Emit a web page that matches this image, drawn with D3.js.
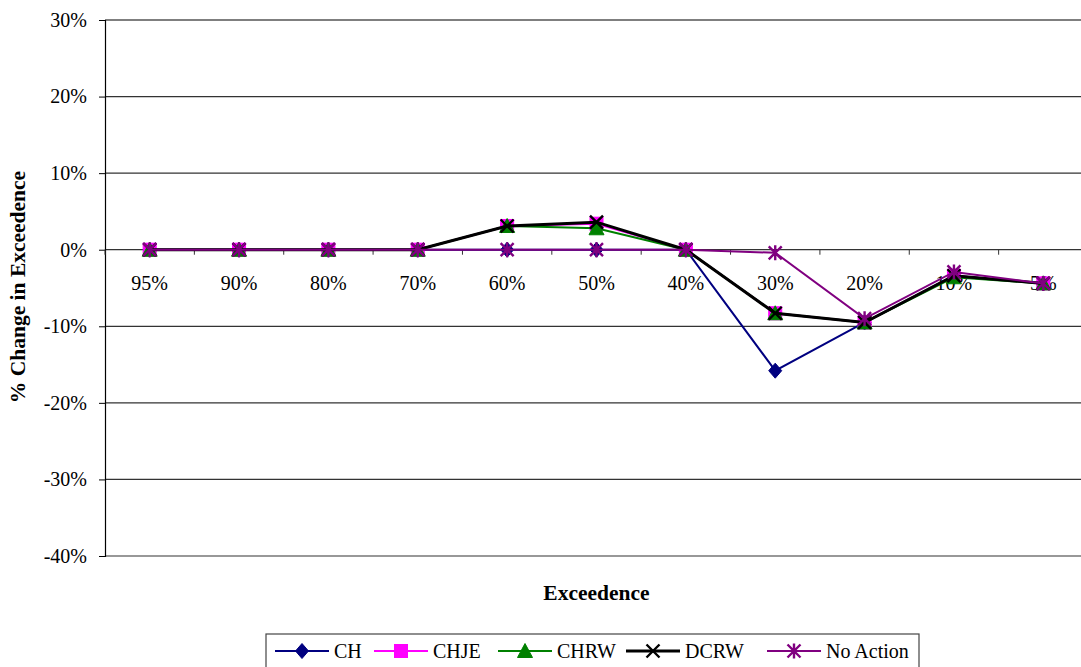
<!DOCTYPE html>
<html>
<head>
<meta charset="utf-8">
<script src="https://cdn.jsdelivr.net/npm/d3@7"></script>
<style>
  html, body { margin: 0; padding: 0; background: #fff; }
  svg { display: block; }
  svg text { font-family: "Liberation Serif", "Times New Roman", "DejaVu Serif", serif; }
</style>
</head>
<body>
<svg id="chart" width="1081" height="667"></svg>
<script>
// Exceedence levels along the x axis
const categories = ["95%", "90%", "80%", "70%", "60%", "50%", "40%", "30%", "20%", "10%", "5%"];
const yTicks = [-40, -30, -20, -10, 0, 10, 20, 30];

// % change in exceedence for each alternative
const seriesNames = ["CH", "CHJE", "CHRW", "DCRW", "No Action"];
const valuesCH       = [0, 0, 0, 0, 0,   0,   0, -15.8, -9.5, -3.4, -4.4];
const valuesCHJE     = [0, 0, 0, 0, 3.1, 3.4, 0, -8.3,  -9.5, -3.4, -4.4];
const valuesCHRW     = [0, 0, 0, 0, 3.1, 2.8, 0, -8.3,  -9.5, -3.6, -4.4];
const valuesDCRW     = [0, 0, 0, 0, 3.1, 3.6, 0, -8.3,  -9.5, -3.4, -4.4];
const valuesNoAction = [0, 0, 0, 0, 0,   0,   0, -0.4,  -9.0, -2.9, -4.4];

const styles = {
  "CH":        { color: "#000080", width: 2,   marker: "diamond" },
  "CHJE":      { color: "#ff00ff", width: 2,   marker: "square" },
  "CHRW":      { color: "#008000", width: 2,   marker: "triangle" },
  "DCRW":      { color: "#000000", width: 3,   marker: "cross" },
  "No Action": { color: "#800080", width: 2,   marker: "star" }
};
const seriesValues = [valuesCH, valuesCHJE, valuesCHRW, valuesDCRW, valuesNoAction];
const series = seriesNames.map((name, i) => Object.assign({ name, values: seriesValues[i] }, styles[name]));

const FONT = "Liberation Serif, Times New Roman, DejaVu Serif, serif";
const svg = d3.select("#chart");
const plot = { left: 105, right: 1088, top: 20, bottom: 556 };

const x = d3.scalePoint().domain(categories).range([plot.left, plot.right]).padding(0.5);
const y = d3.scaleLinear().domain([-40, 30]).range([plot.bottom, plot.top]);

// Horizontal gridlines
svg.append("g").selectAll("line").data(yTicks).join("line")
  .attr("x1", plot.left).attr("x2", 1081)
  .attr("y1", d => y(d)).attr("y2", d => y(d))
  .attr("stroke", d => d === 30 ? "#000" : "#333")
  .attr("stroke-width", 1.2);

// Y axis with tick labels
const yAxis = d3.axisLeft(y).tickValues(yTicks).tickSize(6).tickPadding(12)
  .tickFormat(d => d + "%");
const gy = svg.append("g").attr("transform", `translate(${plot.left},0)`).call(yAxis)
  .attr("font-family", FONT).attr("font-size", 20);
gy.select(".domain").attr("stroke", "#000").attr("stroke-width", 1.2);
gy.selectAll(".tick line").attr("stroke", "#000");
gy.selectAll("text").attr("fill", "#000");

// X axis crossing at zero, ticks between categories
const step = x.step();
const boundaries = d3.range(categories.length + 1).map(i => plot.left + i * step);
svg.append("g").selectAll("line").data(boundaries.filter(b => b < 1081)).join("line")
  .attr("x1", d => d).attr("x2", d => d)
  .attr("y1", y(0)).attr("y2", y(0) + 5)
  .attr("stroke", "#333").attr("stroke-width", 1);

svg.append("g").attr("font-family", FONT).selectAll("text").data(categories).join("text")
  .attr("x", d => x(d)).attr("y", y(0) + 40)
  .attr("text-anchor", "middle")
  .attr("font-size", 20).attr("fill", "#000")
  .text(d => d);

// Axis titles
svg.append("text")
  .attr("x", (plot.left + plot.right) / 2).attr("y", 600)
  .attr("font-family", FONT)
  .attr("text-anchor", "middle").attr("font-weight", "bold").attr("font-size", 21.5)
  .text("Exceedence");

svg.append("text")
  .attr("transform", `translate(25,${(plot.top + plot.bottom) / 2 - 1}) rotate(-90)`)
  .attr("font-family", FONT)
  .attr("text-anchor", "middle").attr("font-weight", "bold").attr("font-size", 21.5)
  .text("% Change in Exceedence");

// Marker drawing
function drawMarker(g, type, color, cx, cy, s) {
  const h = s / 2;
  if (type === "diamond") {
    g.append("path").attr("d", `M${cx},${cy - h - 1}L${cx + h},${cy}L${cx},${cy + h + 1}L${cx - h},${cy}Z`)
      .attr("fill", color).attr("stroke", color);
  } else if (type === "square") {
    g.append("rect").attr("x", cx - h).attr("y", cy - h).attr("width", s).attr("height", s)
      .attr("fill", color).attr("stroke", color);
  } else if (type === "triangle") {
    g.append("path").attr("d", `M${cx},${cy - h - 1}L${cx + h + 1},${cy + h}L${cx - h - 1},${cy + h}Z`)
      .attr("fill", color).attr("stroke", color);
  } else if (type === "cross") {
    g.append("path").attr("d", `M${cx - h},${cy - h}L${cx + h},${cy + h}M${cx + h},${cy - h}L${cx - h},${cy + h}`)
      .attr("stroke", color).attr("stroke-width", 2.4).attr("fill", "none");
  } else if (type === "star") {
    g.append("path").attr("d", `M${cx - h},${cy - h}L${cx + h},${cy + h}M${cx + h},${cy - h}L${cx - h},${cy + h}M${cx},${cy - h - 1}L${cx},${cy + h + 1}`)
      .attr("stroke", color).attr("stroke-width", 2.4).attr("fill", "none");
  }
}

// Series lines and markers
const line = d3.line().x((d, i) => x(categories[i])).y(d => y(d));
series.forEach(s => {
  const g = svg.append("g");
  g.append("path").datum(s.values)
    .attr("d", line).attr("fill", "none")
    .attr("stroke", s.color).attr("stroke-width", s.width);
  s.values.forEach((v, i) => drawMarker(g, s.marker, s.color, x(categories[i]), y(v), 13));
});

// Legend
const legend = svg.append("g").attr("font-family", FONT);
legend.append("rect").attr("x", 266).attr("y", 634).attr("width", 653).attr("height", 40)
  .attr("fill", "#fff").attr("stroke", "#444").attr("stroke-width", 1.2);
const legendX = [275, 374, 498, 626, 767];
series.forEach((s, i) => {
  const lx = legendX[i], ly = 651;
  legend.append("line").attr("x1", lx).attr("x2", lx + 54).attr("y1", ly).attr("y2", ly)
    .attr("stroke", s.color).attr("stroke-width", s.width);
  drawMarker(legend, s.marker, s.color, lx + 27, ly, 13);
  legend.append("text").attr("x", lx + 59).attr("y", ly + 7)
    .attr("font-size", 20).attr("fill", "#000").text(s.name);
});
</script>
</body>
</html>
